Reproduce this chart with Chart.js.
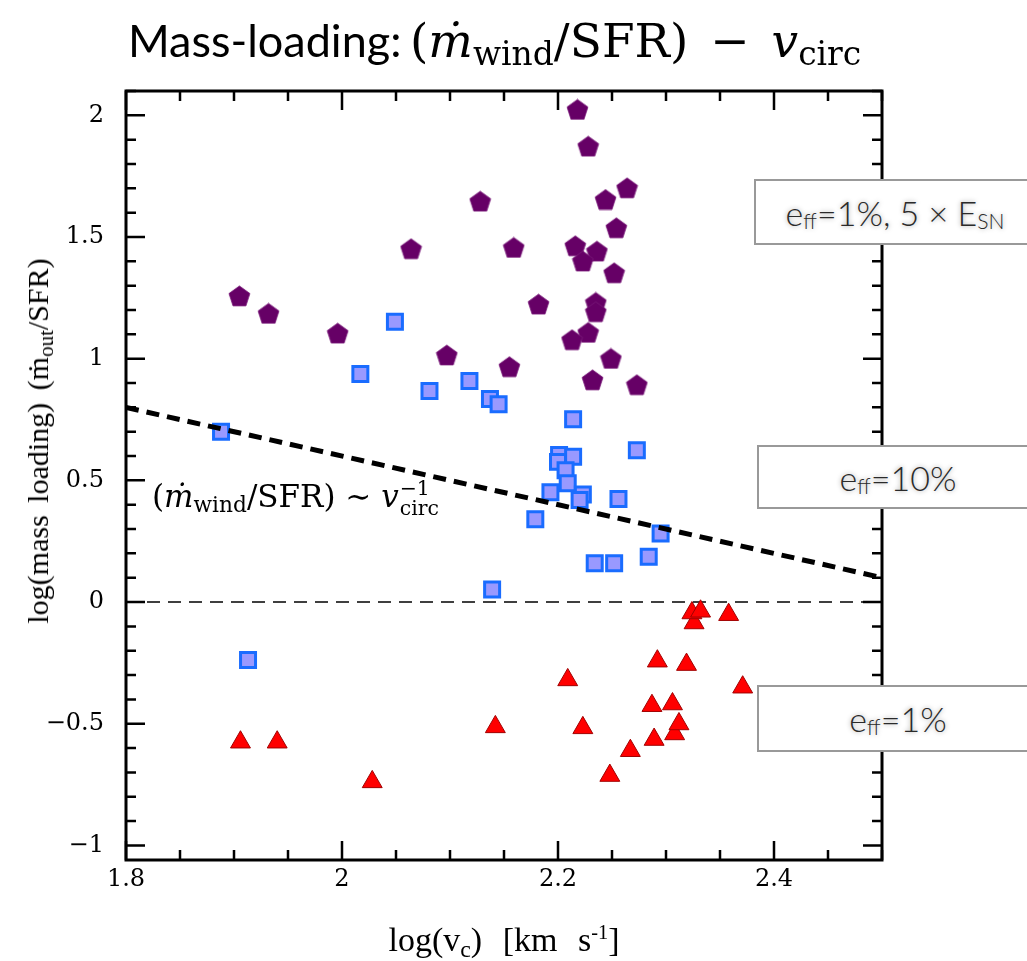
<!DOCTYPE html>
<html>
<head>
<meta charset="utf-8">
<script src="https://cdn.jsdelivr.net/npm/chart.js@4.4.1/dist/chart.umd.min.js"></script>
<style>
    html, body { margin: 0; padding: 0; background: #fff; overflow: hidden; }
    #wrap { position: relative; width: 1027px; height: 961px; overflow: hidden; }
    #chart { position: absolute; left: 0; top: 0; }
    .serif { font-family: "Liberation Serif", "DejaVu Serif", serif; color: #000; }
    .math { font-family: "DejaVu Serif", "Liberation Serif", serif; color: #000; }
    .title-a { position: absolute; left: 128px; top: 40px; transform: translateY(-50%); white-space: nowrap;
               font-family: "Lato", "Open Sans", sans-serif; font-size: 45px; font-weight: 400; }
    .title-b { position: absolute; left: 410px; top: 40px; transform: translateY(-50%); white-space: nowrap;
               font-size: 47px; }
    .op { margin: 0 22px; }
    sub { font-size: 0.7em; vertical-align: -0.25em; line-height: 0; }
    .ylab { position: absolute; left: 38px; top: 441px; transform: translate(-50%, -50%) rotate(-90deg);
            white-space: nowrap; font-size: 30px; word-spacing: 5px; }
    .xlab { position: absolute; left: 504px; top: 940px; transform: translate(-50%, -50%); white-space: nowrap;
            font-size: 34px; word-spacing: 12px; }
    .note { position: absolute; left: 152px; top: 498px; transform: translateY(-50%); white-space: nowrap; font-size: 31px; }
    .supsub { display: inline-block; vertical-align: middle; line-height: 0.95; font-size: 0.66em; margin-left: 1px; }
    .supsub span { display: block; }
    .box { position: absolute; left: 754px; width: 278px; border: 2px solid #999; background: #fff;
           display: flex; align-items: center; justify-content: center;
           font-family: "Lato", "Open Sans", sans-serif; font-weight: 300; font-size: 34px; color: #2a2a2a;
           text-shadow: 0 0 5px rgba(0,0,0,0.4); white-space: nowrap; }
    .box sub { font-size: 0.62em; vertical-align: -0.12em; }
</style>
</head>
<body>
<div id="wrap">
    <canvas id="chart" width="1027" height="961"></canvas>

    <div class="title-a">Mass-loading:</div>
    <div class="title-b math">(<i>ṁ</i><sub>wind</sub>/SFR)<span class="op">−</span><i>v</i><sub>circ</sub></div>
    <div class="ylab serif">log(mass loading) (ṁ<sub>out</sub>/SFR)</div>
    <div class="xlab serif">log(v<sub>c</sub>) [km s<sup style="font-size:0.6em">-1</sup>]</div>
    <div class="note math">(<i>ṁ</i><sub>wind</sub>/SFR) ∼ <i>v</i><span class="supsub"><span>−1</span><span>circ</span></span></div>

    <div class="box" style="top:179px;height:62px;"><span>e<sub>ff</sub>=1%, 5 × E<sub>SN</sub></span></div>
    <div class="box" style="top:445px;height:60px;left:757px;"><span>e<sub>ff</sub>=10%</span></div>
    <div class="box" style="top:685px;height:63px;left:757px;"><span>e<sub>ff</sub>=1%</span></div>
</div>

<script>
"use strict";

// Axlar
const xMin = 1.8, xMax = 2.5;
const yMin = -1.06, yMax = 2.1;
const xTicks = [1.8, 2, 2.2, 2.4];
const yTicks = [-1, -0.5, 0, 0.5, 1, 1.5, 2];
const xMinorStep = 0.05;
const yMinorStep = 0.1;

// eff = 1%, 5 x E_SN (femhörningar)
const pentX = [1.905, 1.932, 1.996, 2.064, 2.097, 2.128, 2.159, 2.155, 2.182, 2.218, 2.228, 2.264, 2.244,
               2.254, 2.216, 2.236, 2.223, 2.252, 2.235, 2.235, 2.228, 2.213, 2.249, 2.232, 2.273];
const pentY = [1.258, 1.186, 1.105, 1.452, 1.015, 1.647, 1.457, 0.967, 1.224, 2.024, 1.873, 1.702, 1.654,
               1.538, 1.464, 1.442, 1.401, 1.353, 1.231, 1.193, 1.108, 1.078, 1.001, 0.913, 0.893];

// eff = 10% (kvadrater)
const squareX = [1.888, 2.017, 2.049, 2.081, 2.118, 2.137, 2.145, 2.214, 2.273, 2.201, 2.214, 2.200, 2.207,
                 2.209, 2.193, 2.223, 2.220, 2.256, 2.179, 2.295, 2.284, 2.234, 2.252, 2.139, 1.913];
const squareY = [0.700, 0.937, 1.152, 0.867, 0.908, 0.834, 0.813, 0.751, 0.624, 0.604, 0.597, 0.576, 0.542,
                 0.488, 0.451, 0.442, 0.419, 0.423, 0.340, 0.282, 0.186, 0.159, 0.159, 0.052, -0.238];

// eff = 1% (trianglar)
const triX = [1.906, 1.940, 2.028, 2.142, 2.209, 2.223, 2.248, 2.267, 2.287, 2.289, 2.292, 2.306, 2.308,
              2.312, 2.319, 2.326, 2.324, 2.332, 2.358, 2.371];
const triY = [-0.576, -0.576, -0.739, -0.513, -0.320, -0.517, -0.713, -0.611, -0.426, -0.565, -0.243, -0.419, -0.542,
              -0.501, -0.257, -0.086, -0.045, -0.038, -0.052, -0.350];

// Linje (mdot/SFR) ~ v^-1 och nollnivån
const fitX = [1.8, 2.5];
const fitY = [0.8, 0.1];
const zeroX = [1.8, 2.5];
const zeroY = [0, 0];

// Slå ihop x- och y-listor till punkter
function toPoints(xs, ys) {
    return xs.map((x, i) => ({ x: x, y: ys[i] }));
}

// Femhörning som punktstil (Chart.js saknar en egen)
function makePentagon(r, fill) {
    const c = document.createElement('canvas');
    const w = Math.ceil(2 * r * Math.sin(72 * Math.PI / 180)) + 2;
    const h = Math.ceil(r * (1 + Math.cos(36 * Math.PI / 180))) + 2;
    c.width = w;
    c.height = h;
    const ctx = c.getContext('2d');
    const cx = w / 2;
    const cy = 1 + r;
    ctx.beginPath();
    for (let i = 0; i < 5; i++) {
        const a = -Math.PI / 2 + i * 2 * Math.PI / 5;
        const px = cx + r * Math.cos(a);
        const py = cy + r * Math.sin(a);
        if (i === 0) ctx.moveTo(px, py); else ctx.lineTo(px, py);
    }
    ctx.closePath();
    ctx.fillStyle = fill;
    ctx.fill();
    ctx.strokeStyle = '#7a1a7a';
    ctx.lineWidth = 0.8;
    ctx.stroke();
    return c;
}

// Ram med inåtvända tickmarkeringar på alla fyra sidor
const framePlugin = {
    id: 'frame',
    beforeDatasetsDraw(chart) {
        const { ctx, chartArea: a, scales: { x, y } } = chart;
        const near = (v, list) => list.some(t => Math.abs(t - v) < 1e-6);
        ctx.save();
        ctx.strokeStyle = '#000';
        ctx.lineWidth = 2.5;
        ctx.beginPath();
        for (let v = xMin; v <= xMax + 1e-9; v += xMinorStep) {
            const px = x.getPixelForValue(v);
            const len = near(v, xTicks) ? 19 : 10;
            ctx.moveTo(px, a.bottom); ctx.lineTo(px, a.bottom - len);
            ctx.moveTo(px, a.top); ctx.lineTo(px, a.top + len);
        }
        for (let v = -1; v <= yMax + 1e-9; v += yMinorStep) {
            const py = y.getPixelForValue(v);
            const len = near(v, yTicks) ? 19 : 10;
            ctx.moveTo(a.left, py); ctx.lineTo(a.left + len, py);
            ctx.moveTo(a.right, py); ctx.lineTo(a.right - len, py);
        }
        ctx.stroke();
        ctx.lineWidth = 3;
        ctx.strokeRect(a.left, a.top, a.right - a.left, a.bottom - a.top);
        ctx.restore();
    }
};

const tickFont = { family: '"DejaVu Serif", serif', size: 24 };
const fmt = v => String(Math.round(v * 100) / 100).replace('-', '−');

new Chart(document.getElementById('chart'), {
    type: 'scatter',
    data: {
        datasets: [
            {
                // ritas sist, över punkterna
                data: toPoints(fitX, fitY),
                showLine: true,
                borderColor: '#000',
                borderWidth: 5,
                borderDash: [13, 8],
                pointRadius: 0
            },
            {
                data: toPoints(triX, triY),
                pointStyle: 'triangle',
                pointRadius: 11.5,
                backgroundColor: '#ff0000',
                borderColor: '#a00000',
                borderWidth: 1
            },
            {
                data: toPoints(squareX, squareY),
                pointStyle: 'rect',
                pointRadius: 10.6,
                backgroundColor: '#9999ff',
                borderColor: '#1a6cff',
                borderWidth: 3
            },
            {
                data: toPoints(pentX, pentY),
                pointStyle: makePentagon(11, '#660066'),
                pointRadius: 11
            },
            {
                data: toPoints(zeroX, zeroY),
                showLine: true,
                borderColor: '#000',
                borderWidth: 1.5,
                borderDash: [13, 8],
                pointRadius: 0
            }
        ]
    },
    options: {
        responsive: false,
        animation: false,
        devicePixelRatio: 1,
        layout: { padding: { top: 91, right: 145, left: 0, bottom: 0 } },
        plugins: {
            legend: { display: false },
            tooltip: { enabled: false }
        },
        scales: {
            x: {
                min: xMin,
                max: xMax,
                afterBuildTicks: s => { s.ticks = xTicks.map(v => ({ value: v })); },
                afterFit: s => { s.height = 101; },
                grid: { display: false, drawTicks: false },
                border: { display: false },
                ticks: { font: tickFont, color: '#000', padding: 5, maxRotation: 0, callback: fmt }
            },
            y: {
                min: yMin,
                max: yMax,
                afterBuildTicks: s => { s.ticks = yTicks.map(v => ({ value: v })); },
                afterFit: s => { s.width = 126; },
                grid: { display: false, drawTicks: false },
                border: { display: false },
                ticks: { font: tickFont, color: '#000', padding: 22, callback: fmt }
            }
        }
    },
    plugins: [framePlugin]
});
</script>
</body>
</html>
